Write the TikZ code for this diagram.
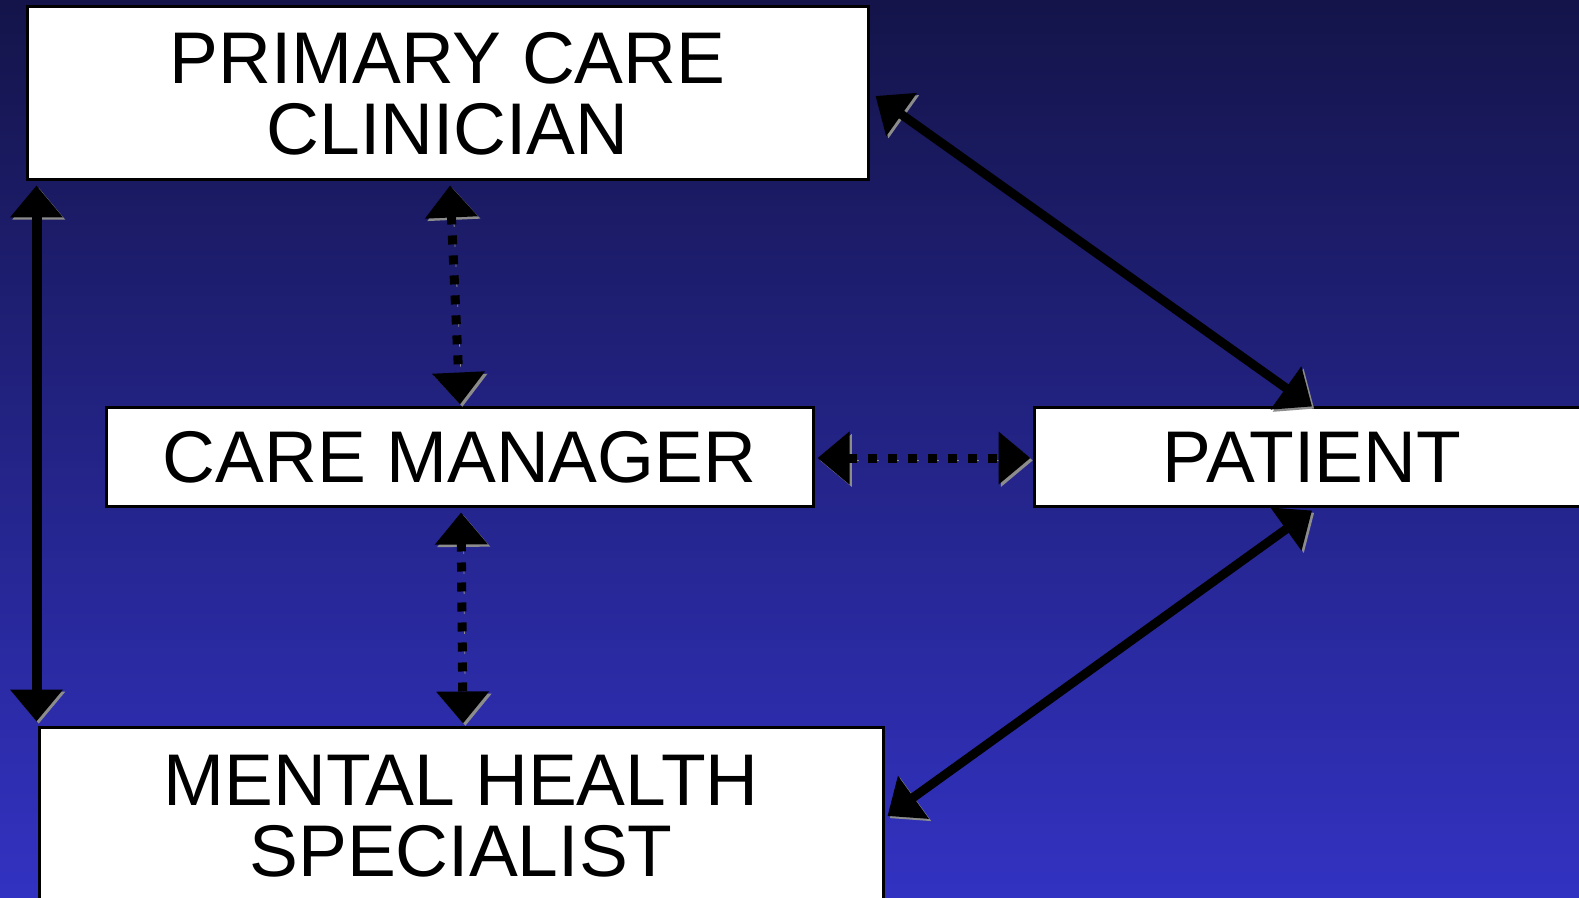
\documentclass[tikz,border=0pt]{standalone}
\usepackage{fontspec}
\setmainfont{Liberation Sans}
\usetikzlibrary{arrows.meta,calc}
\definecolor{bgtop}{RGB}{20,20,74}
\definecolor{bgbot}{RGB}{50,50,194}
\definecolor{shadowgray}{RGB}{140,140,140}
\begin{document}
\begin{tikzpicture}[x=0.5pt,y=-0.5pt,
  box/.style={draw=black, line width=1.5pt, fill=white, inner sep=0pt, align=center,
    font=\fontsize{36.6}{35.5}\selectfont},
  solidconn/.style={line width=#1, draw=black,
    {Triangle[length=16pt,width=25.5pt]}-{Triangle[length=16pt,width=25.5pt]},
    preaction={draw=shadowgray, transform canvas={shift={(1.1pt,-1.1pt)}}}},
  dotconn/.style={line width=4.5pt, draw=black, dash pattern=on 4.5pt off 5.5pt,
    {Triangle[length=16pt,width=25.5pt]}-{Triangle[length=16pt,width=25.5pt]},
    preaction={draw=shadowgray, dash pattern=on 4.5pt off 5.5pt,
      transform canvas={shift={(1.2pt,-1.2pt)}}}}
]
\shade[top color=bgtop, bottom color=bgbot] (0,0) rectangle (1579,898);
\useasboundingbox (0,0) rectangle (1579,898);

\node[box, minimum width=420.5pt, minimum height=86.5pt] (pcc) at (447.5,93.5) {PRIMARY CARE\\CLINICIAN};
\node[box, minimum width=353.5pt, minimum height=49pt] (cm) at (459.5,457) {CARE MANAGER};
\node[box, minimum width=278pt, minimum height=49pt] (pat) at (1312,457) {PATIENT};
\node[box, minimum width=422pt, minimum height=89pt] (mhs) at (461,816) {MENTAL HEALTH\\SPECIALIST};

\draw[solidconn=5pt] ($(pcc.south west)+(11,4)$) -- ($(mhs.north west)+(-1,-4)$);
\draw[dotconn] ($(pcc.south)+(2.5,4)$) -- ($(cm.north)+(0.5,-2)$);
\draw[dotconn] ($(cm.south)+(1.5,5)$) -- ($(mhs.north)+(2,-2)$);
\draw[dotconn] ($(cm.east)+(3,1)$) -- ($(pat.west)+(-2,1)$);
\draw[solidconn=4.5pt] ($(pcc.east)+(6,2.5)$) -- (pat.north);
\draw[solidconn=4.5pt] ($(pat.south)+(0,3)$) -- ($(mhs.east)+(3,0)$);
\end{tikzpicture}
\end{document}
